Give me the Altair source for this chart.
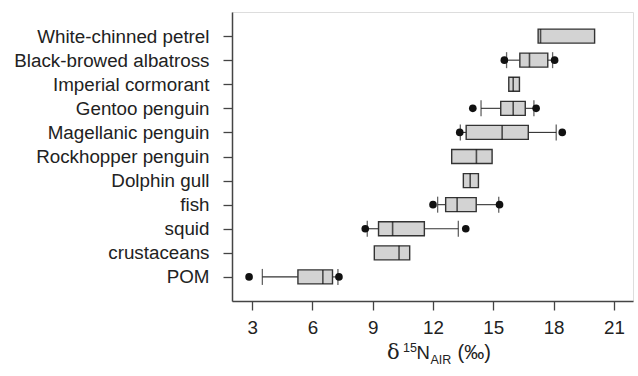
import altair as alt
import pandas as pd

categories = ["White-chinned petrel", "Black-browed albatross", "Imperial cormorant",
              "Gentoo penguin", "Magellanic penguin", "Rockhopper penguin",
              "Dolphin gull", "fish", "squid", "crustaceans", "POM"]
q1 =     [17.23, 16.32, 15.77, 15.37, 13.65, 12.93, 13.51, 12.63,  9.29,  9.08, 5.28]
median = [17.35, 16.80, 15.99, 15.99, 15.44, 14.16, 13.85, 13.20,  9.99, 10.31, 6.52]
q3 =     [20.04, 17.71, 16.30, 16.59, 16.74, 14.94, 14.26, 14.15, 11.57, 10.84, 7.00]

whisk_cats = ["Black-browed albatross", "Gentoo penguin", "Magellanic penguin", "fish", "squid", "POM"]
whisk_lo = [15.66, 14.39, 13.36, 12.23, 8.73, 3.51]
whisk_hi = [17.95, 17.02, 18.13, 15.27, 13.26, 7.27]

pt_cats = ["Black-browed albatross", "Black-browed albatross", "Gentoo penguin", "Gentoo penguin",
           "Magellanic penguin", "Magellanic penguin", "fish", "fish", "squid", "squid", "POM", "POM"]
pt_vals = [15.55, 18.05, 13.98, 17.13, 13.33, 18.43, 12.0, 15.31, 8.63, 13.63, 2.85, 7.32]

x_ticks = [3, 6, 9, 12, 15, 18, 21]

box_df = pd.DataFrame({"cat": categories, "q1": q1, "med": median, "q3": q3})
wq1 = [q1[categories.index(c)] for c in whisk_cats]
wq3 = [q3[categories.index(c)] for c in whisk_cats]
wh_df = pd.DataFrame({"cat": whisk_cats, "lo": whisk_lo, "hi": whisk_hi, "q1": wq1, "q3": wq3})
pt_df = pd.DataFrame({"cat": pt_cats, "v": pt_vals})

FONT = "Liberation Sans"
xscale = alt.Scale(domain=[2.0, 21.95], nice=False, zero=False)
yscale = alt.Scale(type="point", domain=categories, padding=1)

xaxis = alt.Axis(values=x_ticks, title=None, grid=False, tickSize=9, labelPadding=8,
                 labelFont=FONT, labelFontSize=18.8, labelColor="#222", tickColor="#444",
                 domainColor="#444", domainWidth=1.5, tickWidth=1.3, labelFlush=False)
yaxis = alt.Axis(title=None, grid=False, tickSize=9, labelPadding=14, labelLimit=400,
                 labelFont=FONT, labelFontSize=18.8, labelColor="#222", tickColor="#444",
                 domainColor="#444", domainWidth=1.5, tickWidth=1.3)

X = lambda f: alt.X(f, type="quantitative", scale=xscale, axis=xaxis)
Y = alt.Y("cat:N", scale=yscale, axis=yaxis)

whisk_lo_rule = alt.Chart(wh_df).mark_rule(color="#333", strokeWidth=1.1).encode(
    x=X("lo"), x2="q1", y=Y)
whisk_hi_rule = alt.Chart(wh_df).mark_rule(color="#333", strokeWidth=1.1).encode(
    x=X("q3"), x2="hi", y=Y)
staple_lo = alt.Chart(wh_df).mark_tick(color="#222", size=16, thickness=1.3).encode(x=X("lo"), y=Y)
staple_hi = alt.Chart(wh_df).mark_tick(color="#222", size=16, thickness=1.3).encode(x=X("hi"), y=Y)
boxes = alt.Chart(box_df).mark_bar(size=14, fill="#d3d3d3", stroke="#333", strokeWidth=1.4).encode(
    x=X("q1"), x2="q3", y=Y)
meds = alt.Chart(box_df).mark_tick(color="#111", size=14, thickness=1.6).encode(x=X("med"), y=Y)
pts = alt.Chart(pt_df).mark_point(shape="circle", filled=True, color="#111", opacity=1, size=58).encode(
    x=X("v"), y=Y)

# axis title with super/subscripts
tparts = [
    ("δ", 155.0, 346.5, 21, "DejaVu Serif"),
    ("15", 171.0, 339.7, 12.5, FONT),
    ("N", 184.5, 346.5, 18.5, FONT),
    ("AIR", 198.5, 351.5, 12.5, FONT),
    ("(‰)", 225.5, 346.5, 20, FONT),
]
title_layers = []
for txt, tx, ty, fs, ff in tparts:
    title_layers.append(
        alt.Chart(pd.DataFrame({"t": [txt]})).mark_text(
            align="left", baseline="alphabetic", fontSize=fs, font=ff, color="#222"
        ).encode(text="t:N", x=alt.value(tx), y=alt.value(ty))
    )

chart = alt.layer(whisk_lo_rule, whisk_hi_rule, staple_lo, staple_hi, boxes, meds, pts,
                  *title_layers).properties(
    width=401, height=289,
    autosize=alt.AutoSizeParams(type="none"),
    padding={"left": 232, "top": 12, "right": 5, "bottom": 75},
).configure_view(stroke="#444", strokeWidth=1.5).configure(background="white")

chart.save("out.html", embed_options={"renderer": "svg", "actions": False})
